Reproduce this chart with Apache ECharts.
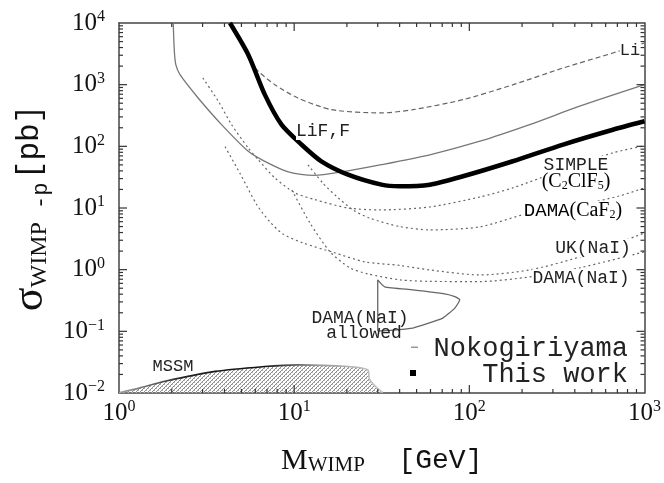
<!DOCTYPE html>
<html>
<head>
<meta charset="utf-8">
<script src="https://cdn.jsdelivr.net/npm/echarts@6/dist/echarts.min.js"></script>
<style>
  html, body { margin: 0; padding: 0; background: #fff; }
  #chart { width: 664px; height: 483px; }
</style>
</head>
<body>
<div id="chart"></div>
<script>
// values: WIMP mass [GeV] and cross section [pb]
const workMass  = [4.3, 5.47, 6.8, 8.47, 11.0, 14.3, 20.3, 31.5, 40, 59.5, 92, 177, 343, 660, 1000];
const workSigma = [10000, 3060, 689, 225, 107, 57, 34.7, 23.9, 22.5, 23.9, 32.7, 57.3, 107, 186, 255];

const nokoMass  = [2.04, 2.07, 2.11, 2.23, 2.83, 3.85, 5.47, 6.8, 9.25, 13.1, 18.6, 31.5, 59.5, 115, 221, 426, 1000];
const nokoSigma = [10000, 3476, 2108, 1450, 608, 225, 83, 57, 38.5, 33.9, 38.5, 50.5, 73, 121, 225, 447, 1000];

const liMass  = [4.7, 5.23, 5.97, 7.76, 10.5, 16.3, 31.5, 47.7, 92, 178, 343, 660, 1000];
const liSigma = [7000, 3476, 1864, 1000, 608, 393, 348, 393, 571, 1000, 1864, 3265, 4740];

const simpleMass  = [3.01, 3.69, 4.39, 5.47, 6.23, 7.76, 10.1, 13.1, 20.3, 30.8, 59.4, 115, 177, 341, 658, 1000];
const simpleSigma = [1285, 538, 225, 94, 60.8, 30.7, 17.6, 13.7, 10.0, 9.3, 10.4, 15.1, 21.2, 41.5, 78.2, 102];

const cafMass  = [12.0, 14.6, 17.5, 21.7, 27.0, 40.1, 59.4, 115, 221, 426, 721, 1000];
const cafSigma = [50, 25.2, 15.3, 9.3, 6.84, 5.0, 4.42, 4.94, 8.33, 11.2, 15.7, 21.2];

const ukMass  = [4.03, 4.9, 6.13, 7.27, 8.62, 11.2, 16.8, 25.3, 40.1, 59.4, 115, 221, 426, 1000];
const ukSigma = [98.9, 36.6, 11.2, 5.96, 3.8, 2.72, 1.9, 1.34, 1.17, 0.99, 0.82, 0.99, 1.61, 3.94];

const naiMass  = [9.7, 12.3, 16.0, 20.8, 26.3, 40.1, 59.4, 115, 221, 426, 1000];
const naiSigma = [19.6, 5.74, 1.96, 1.07, 0.855, 0.684, 0.646, 0.641, 0.764, 1.07, 1.95];

const allowedMass  = [30.0, 32.9, 47.6, 72.4, 82.6, 88.2, 82.6, 70.5, 47.6, 30.8, 30.0, 30.0];
const allowedSigma = [0.684, 0.526, 0.471, 0.406, 0.366, 0.324, 0.238, 0.164, 0.113, 0.102, 0.102, 0.684];

const mssmMass  = [1.0, 1.32, 1.83, 3.53, 6.8, 10.5, 20.2, 26.3, 27, 32];
const mssmSigma = [0.0101, 0.0121, 0.0155, 0.0224, 0.0269, 0.0286, 0.0269, 0.0238, 0.0164, 0.0101];

const X_MIN = 1, X_MAX = 1000, Y_MIN = 0.01, Y_MAX = 10000;
const minorSteps = [2, 3, 4, 5, 6, 7, 8, 9];
const xDecades = [1, 10, 100];
const yDecades = [0.01, 0.1, 1, 10, 100, 1000];
const xMajorInner = [10, 100];
const yMajorInner = [0.1, 1, 10, 100, 1000];

const SERIF = '"Liberation Serif", "DejaVu Serif", serif';
const MONO = '"Liberation Mono", "DejaVu Sans Mono", monospace';
const AXIS_GREY = '#333';

const pairs = (xs, ys) => xs.map((x, i) => [x, ys[i]]);

// tiny hatch pattern for the MSSM band
const hatch = document.createElement('canvas');
hatch.width = 4; hatch.height = 4;
(function () {
  const c = hatch.getContext('2d');
  c.fillStyle = '#8a8a8a';
  for (let i = 0; i < 4; i++) c.fillRect(i, 3 - i, 1, 1);
  c.fillStyle = '#b5b5b5';
  c.fillRect(0, 0, 1, 1);
  c.fillRect(2, 2, 1, 1);
})();

// frame ticks: [x, y, side(0 bottom,1 top,2 left,3 right), length]
const tickData = [];
function addX(v, len) { tickData.push([v, Y_MIN, 0, len], [v, Y_MAX, 1, len]); }
function addY(v, len) { tickData.push([X_MIN, v, 2, len], [X_MAX, v, 3, len]); }
xDecades.forEach(d => minorSteps.forEach(m => addX(d * m, 4)));
yDecades.forEach(d => minorSteps.forEach(m => addY(d * m, 4)));
xMajorInner.forEach(v => addX(v, 8));
yMajorInner.forEach(v => addY(v, 8));

function powLabel(v) {
  const e = Math.round(Math.log10(v));
  return '{b|10}{e|' + (e < 0 ? '\u2212' + (-e) : e) + '}';
}
const powRich = {
  b: { fontFamily: SERIF, fontSize: 25, color: '#111', lineHeight: 28 },
  e: { fontFamily: SERIF, fontSize: 16, color: '#111', verticalAlign: 'top', lineHeight: 28 }
};

function curve(name, xs, ys, lineStyle, z) {
  return {
    type: 'line', name: name, data: pairs(xs, ys),
    symbol: 'none', smooth: 0.25, silent: true, z: z || 2,
    lineStyle: lineStyle
  };
}

const dotted = { color: '#666', width: 1.2, type: [2, 3] };

function label(text, x, y, size, extra) {
  return {
    type: 'text', z: 50,
    style: Object.assign({
      text: text, x: x, y: y,
      font: size + 'px ' + MONO, fill: '#222',
      align: 'center', verticalAlign: 'middle',
      textAlign: 'center', textVerticalAlign: 'middle',
      backgroundColor: '#fff'
    }, extra || {})
  };
}

const subRich = (size) => ({
  n: { fontFamily: SERIF, fontSize: size, color: '#222' },
  m: { fontFamily: MONO, fontSize: size - 1, color: '#222' },
  s: { fontFamily: SERIF, fontSize: Math.round(size * 0.62), color: '#222', verticalAlign: 'bottom' }
});

function frameAxis(extra) {
  return Object.assign({
    type: 'log', logBase: 10,
    axisLine: { show: true, lineStyle: { color: '#444', width: 1.5 } },
    axisTick: { show: false },
    splitLine: { show: false }
  }, extra);
}

const chart = echarts.init(document.getElementById('chart'), null, { renderer: 'canvas' });

chart.setOption({
  animation: false,
  backgroundColor: '#fff',
  grid: { left: 119, right: 19, top: 23, bottom: 90, containLabel: false },
  xAxis: [
    frameAxis({
      min: X_MIN, max: X_MAX,
      axisLabel: { margin: 6, formatter: powLabel, rich: powRich },
      name: '{m|M}{w|WIMP}{g|  [GeV]}',
      nameLocation: 'middle', nameGap: 53,
      nameTextStyle: {
        rich: {
          m: { fontFamily: SERIF, fontSize: 30, color: '#111' },
          w: { fontFamily: SERIF, fontSize: 21, color: '#111', verticalAlign: 'bottom' },
          g: { fontFamily: MONO, fontSize: 28, color: '#111' }
        }
      }
    }),
    frameAxis({ min: X_MIN, max: X_MAX, position: 'top', axisLabel: { show: false } })
  ],
  yAxis: [
    frameAxis({
      min: Y_MIN, max: Y_MAX,
      axisLabel: { margin: 14, formatter: powLabel, rich: powRich },
      name: '{s|\u03c3}{w|WIMP}{p| -p} {u|[pb]}',
      nameLocation: 'middle', nameRotate: 90, nameGap: 62,
      nameTextStyle: {
        rich: {
          s: { fontFamily: SERIF, fontSize: 44, color: '#111' },
          w: { fontFamily: SERIF, fontSize: 24, color: '#111', verticalAlign: 'bottom' },
          p: { fontFamily: MONO, fontSize: 22, color: '#111', verticalAlign: 'bottom' },
          u: { fontFamily: MONO, fontSize: 31, color: '#111' }
        }
      }
    }),
    frameAxis({ min: Y_MIN, max: Y_MAX, position: 'right', axisLabel: { show: false } })
  ],
  series: [
    {
      type: 'line', name: 'MSSM', data: pairs(mssmMass, mssmSigma),
      symbol: 'none', smooth: 0.3, silent: true, z: 1,
      lineStyle: {
        width: 1.6,
        color: new echarts.graphic.LinearGradient(0, 0, 1, 0, [
          { offset: 0, color: '#aaa' }, { offset: 0.25, color: '#222' },
          { offset: 0.55, color: '#111' }, { offset: 0.75, color: '#999' },
          { offset: 1, color: '#ccc' }
        ])
      },
      areaStyle: { origin: 'start', color: { image: hatch, repeat: 'repeat' }, opacity: 1 }
    },
    curve('Li', liMass, liSigma, { color: '#666', width: 1.2, type: [5, 3] }),
    curve('SIMPLE', simpleMass, simpleSigma, dotted),
    curve('DAMA(CaF2)', cafMass, cafSigma, dotted),
    curve('UK(NaI)', ukMass, ukSigma, dotted),
    curve('DAMA(NaI)', naiMass, naiSigma, dotted),
    Object.assign(curve('DAMA(NaI) allowed', allowedMass, allowedSigma,
      { color: '#666', width: 1.3 }), { smooth: 0.15 }),
    curve('Nokogiriyama', nokoMass, nokoSigma, { color: '#777', width: 1.3 }, 3),
    curve('This work', workMass, workSigma, { color: '#000', width: 4.5 }, 4),
    {
      type: 'custom', name: 'ticks', silent: true, z: 5, clip: false,
      encode: { x: 0, y: 1 },
      data: tickData,
      renderItem: function (params, api) {
        const p = api.coord([api.value(0), api.value(1)]);
        const side = api.value(2), len = api.value(3);
        const dx = side === 2 ? len : side === 3 ? -len : 0;
        const dy = side === 0 ? -len : side === 1 ? len : 0;
        return {
          type: 'line',
          shape: { x1: p[0], y1: p[1], x2: p[0] + dx, y2: p[1] + dy },
          style: { stroke: AXIS_GREY, lineWidth: 1.2 }
        };
      }
    }
  ],
  graphic: [
    label('LiF,F', 323, 131, 18),
    label('Li', 630, 50, 17),
    label('SIMPLE', 576, 165, 18),
    {
      type: 'text', z: 50,
      style: {
        text: '{n|(C}{s|2}{n|ClF}{s|5}{n|)}', rich: subRich(20), x: 576, y: 182,
        align: 'center', verticalAlign: 'middle', textAlign: 'center', textVerticalAlign: 'middle',
        backgroundColor: '#fff'
      }
    },
    {
      type: 'text', z: 50,
      style: {
        text: '{m|DAMA}{n|(CaF}{s|2}{n|)}', rich: subRich(20), x: 573, y: 211,
        align: 'center', verticalAlign: 'middle', textAlign: 'center', textVerticalAlign: 'middle',
        backgroundColor: '#fff'
      }
    },
    label('UK(NaI)', 593, 248, 18),
    label('DAMA(NaI)', 581, 278, 18),
    label('DAMA(NaI)', 360, 318, 18, { backgroundColor: null }),
    label('allowed', 364, 333, 18, { backgroundColor: null }),
    label('MSSM', 173, 366, 17, { backgroundColor: null }),
    { type: 'rect', z: 50, shape: { x: 411, y: 346.5, width: 7, height: 1.5 }, style: { fill: '#999' } },
    { type: 'rect', z: 50, shape: { x: 410, y: 370, width: 6, height: 6 }, style: { fill: '#000' } },
    label('Nokogiriyama', 628, 349, 27, { align: 'right', textAlign: 'right', backgroundColor: null }),
    label('This work', 628, 375, 27, { align: 'right', textAlign: 'right', backgroundColor: null })
  ]
});
</script>
</body>
</html>
